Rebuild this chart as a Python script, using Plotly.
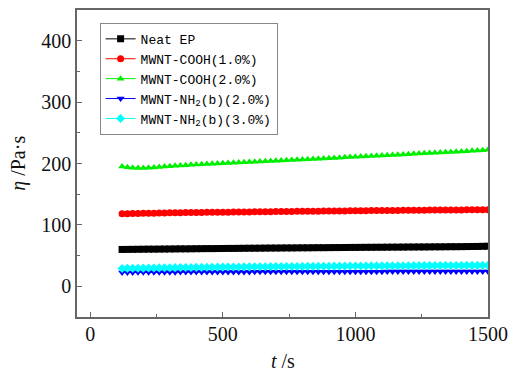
import plotly.graph_objects as go

t = [120, 140, 160, 180, 200, 220, 240, 260, 280, 300,
     320, 340, 360, 380, 400, 420, 440, 460, 480, 500,
     520, 540, 560, 580, 600, 620, 640, 660, 680, 700,
     720, 740, 760, 780, 800, 820, 840, 860, 880, 900,
     920, 940, 960, 980, 1000, 1020, 1040, 1060, 1080, 1100,
     1120, 1140, 1160, 1180, 1200, 1220, 1240, 1260, 1280, 1300,
     1320, 1340, 1360, 1380, 1400, 1420, 1440, 1460, 1480, 1500]

neat_ep = [60.0, 60.1, 60.2, 60.3, 60.4, 60.5, 60.5, 60.6, 60.7, 60.8,
           60.9, 61.0, 61.0, 61.1, 61.2, 61.3, 61.4, 61.4, 61.5, 61.6,
           61.7, 61.7, 61.8, 61.9, 62.0, 62.0, 62.1, 62.2, 62.3, 62.3,
           62.4, 62.5, 62.5, 62.6, 62.7, 62.7, 62.8, 62.9, 62.9, 63.0,
           63.1, 63.1, 63.2, 63.3, 63.3, 63.4, 63.5, 63.5, 63.6, 63.6,
           63.7, 63.8, 63.8, 63.9, 64.0, 64.0, 64.1, 64.1, 64.2, 64.3,
           64.3, 64.4, 64.5, 64.5, 64.6, 64.7, 64.8, 64.9, 65.1, 65.3]

cooh_1 = [118.0, 118.2, 118.4, 118.6, 118.8, 119.0, 119.1, 119.3, 119.4, 119.6,
          119.7, 119.8, 120.0, 120.1, 120.2, 120.3, 120.4, 120.5, 120.6, 120.7,
          120.8, 120.9, 121.0, 121.1, 121.2, 121.3, 121.4, 121.5, 121.6, 121.7,
          121.8, 121.9, 122.0, 122.1, 122.2, 122.2, 122.3, 122.4, 122.5, 122.6,
          122.7, 122.8, 122.8, 122.9, 123.0, 123.1, 123.2, 123.3, 123.3, 123.4,
          123.5, 123.6, 123.6, 123.7, 123.8, 123.9, 123.9, 124.0, 124.1, 124.2,
          124.2, 124.3, 124.3, 124.4, 124.4, 124.5, 124.5, 124.6, 124.6, 124.7]

cooh_2 = [195.0, 193.8, 193.0, 192.5, 192.6, 193.0, 193.6, 194.3, 195.0, 195.7,
          196.3, 196.8, 197.3, 197.8, 198.2, 198.7, 199.1, 199.5, 199.9, 200.4,
          200.8, 201.2, 201.6, 202.0, 202.4, 202.8, 203.2, 203.6, 204.0, 204.4,
          204.8, 205.2, 205.7, 206.1, 206.5, 206.9, 207.4, 207.8, 208.2, 208.7,
          209.1, 209.5, 210.0, 210.4, 210.8, 211.3, 211.7, 212.1, 212.6, 213.0,
          213.5, 213.9, 214.3, 214.8, 215.2, 215.7, 216.1, 216.5, 217.0, 217.4,
          217.9, 218.3, 218.8, 219.2, 219.7, 220.1, 220.6, 221.1, 221.7, 222.5]

nh2_2 = [22.5, 22.6, 22.6, 22.7, 22.8, 22.8, 22.9, 22.9, 23.0, 23.0,
         23.0, 23.1, 23.1, 23.1, 23.2, 23.2, 23.2, 23.3, 23.3, 23.3,
         23.3, 23.4, 23.4, 23.4, 23.4, 23.5, 23.5, 23.5, 23.5, 23.6,
         23.6, 23.6, 23.6, 23.6, 23.7, 23.7, 23.7, 23.7, 23.7, 23.8,
         23.8, 23.8, 23.8, 23.8, 23.8, 23.9, 23.9, 23.9, 23.9, 23.9,
         24.0, 24.0, 24.0, 24.0, 24.0, 24.0, 24.1, 24.1, 24.1, 24.1,
         24.1, 24.1, 24.2, 24.2, 24.2, 24.2, 24.2, 24.3, 24.3, 24.3]

nh2_3 = [29.0, 29.2, 29.3, 29.5, 29.6, 29.8, 29.9, 30.0, 30.2, 30.3,
         30.4, 30.5, 30.6, 30.7, 30.8, 30.9, 31.0, 31.1, 31.2, 31.3,
         31.4, 31.5, 31.5, 31.6, 31.7, 31.8, 31.8, 31.9, 32.0, 32.1,
         32.1, 32.2, 32.3, 32.3, 32.4, 32.5, 32.5, 32.6, 32.7, 32.7,
         32.8, 32.8, 32.9, 33.0, 33.0, 33.1, 33.1, 33.2, 33.2, 33.3,
         33.3, 33.4, 33.4, 33.5, 33.5, 33.6, 33.6, 33.7, 33.7, 33.8,
         33.8, 33.8, 33.9, 33.9, 33.9, 34.0, 34.0, 34.0, 34.1, 34.1]

names = ["Neat EP", "MWNT-COOH(1.0%)", "MWNT-COOH(2.0%)",
         "MWNT-NH<sub>2</sub>(b)(2.0%)", "MWNT-NH<sub>2</sub>(b)(3.0%)"]
series = [neat_ep, cooh_1, cooh_2, nh2_2, nh2_3]
colors = ["#000000", "#ff0000", "#00ee00", "#0000ff", "#00ffff"]
symbols = ["square", "circle", "triangle-up", "triangle-down", "diamond"]

fig = go.Figure()
for name, ys, c, s in zip(names, series, colors, symbols):
    fig.add_trace(go.Scatter(
        x=t, y=ys, name=name, mode="lines+markers",
        line=dict(color=c, width=1),
        marker=dict(symbol=s, color=c, size=7, line=dict(width=0)),
    ))

serif = "Liberation Serif"
tickfont = dict(family=serif, size=20, color="#111111")

axis_common = dict(
    showgrid=False, zeroline=False, showline=True, linecolor="#666666", linewidth=1.5,
    mirror=True, ticks="inside", ticklen=5, tickcolor="#666666", tickwidth=1,
    automargin=False, tickfont=tickfont,
)

fig.update_xaxes(range=[-50, 1500], tickvals=[0, 500, 1000, 1500],
                 ticktext=["0", "500", "1000", "1500"],
                 ticklabelstandoff=-2,
                 minor=dict(ticks="inside", ticklen=3, tickvals=[250, 750, 1250], tickcolor="#666666"),
                 **axis_common)
fig.update_yaxes(range=[-50, 450], tickvals=[0, 100, 200, 300, 400],
                 ticktext=["0", "100", "200", "300", "400"],
                 minor=dict(ticks="inside", ticklen=3, tickvals=[50, 150, 250, 350], tickcolor="#666666"),
                 **axis_common)

fig.add_annotation(text="<i>t</i> /s", xref="paper", yref="paper", x=0.5, y=-0.143,
                   xanchor="center", yanchor="middle", showarrow=False,
                   font=dict(family=serif, size=20, color="#111111"))
fig.add_annotation(text="<i>η</i> /Pa·s", xref="paper", yref="paper", x=-0.143, y=0.5,
                   xanchor="center", yanchor="middle", showarrow=False, textangle=-90,
                   font=dict(family=serif, size=20, color="#111111"))

fig.update_layout(
    width=514, height=374,
    margin=dict(l=77, r=26, t=10, b=57),
    plot_bgcolor="white", paper_bgcolor="white",
    font=dict(family=serif, size=20, color="#111111"),
    legend=dict(x=0.055, y=0.958, xanchor="left", yanchor="top",
                bordercolor="#888888", borderwidth=1, bgcolor="white",
                font=dict(family="Liberation Mono", size=13, color="#000000"),
                tracegroupgap=0, itemwidth=30),
)

fig.write_html("out.html")
